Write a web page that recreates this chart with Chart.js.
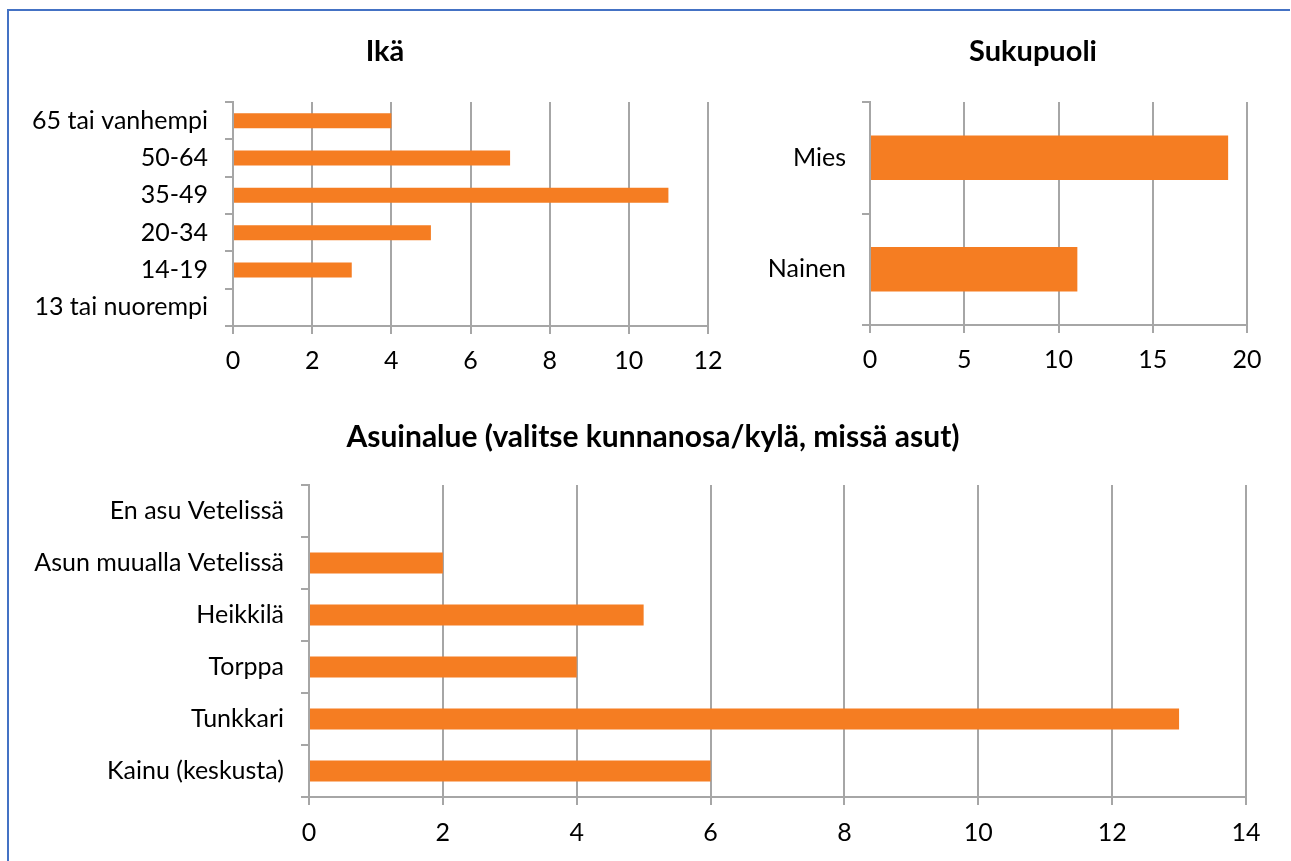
<!DOCTYPE html>
<html><head><meta charset="utf-8">
<script src="https://cdn.jsdelivr.net/npm/chart.js@4/dist/chart.umd.min.js"></script>
<style>
html,body{margin:0;padding:0;width:1291px;height:861px;overflow:hidden;background:#fff;}
canvas{position:absolute;}
#frameTop{position:absolute;left:7px;top:9px;width:1283px;height:2px;background:#4472C4;}
#frameLeft{position:absolute;left:7px;top:9px;width:2px;height:852px;background:#4472C4;}
</style></head><body>
<canvas id="ch1" width="750" height="370" style="left:10px;top:20px"></canvas>
<canvas id="ch2" width="586" height="370" style="left:740px;top:20px"></canvas>
<canvas id="ch3" width="1286" height="466" style="left:10px;top:395px"></canvas>
<div id="frameTop"></div><div id="frameLeft"></div>
<script>
// ---- data ----
const ageTitle = 'Ikä';
const ageLabels = ['65 tai vanhempi', '50-64', '35-49', '20-34', '14-19', '13 tai nuorempi'];
const ageValues = [4, 7, 11, 5, 3, 0];
const ageTicks = {max: 12, step: 2};

const sexTitle = 'Sukupuoli';
const sexLabels = ['Mies', 'Nainen'];
const sexValues = [19, 11];
const sexTicks = {max: 20, step: 5};

const areaTitle = 'Asuinalue (valitse kunnanosa/kylä, missä asut)';
const areaLabels = ['En asu Vetelissä', 'Asun muualla Vetelissä', 'Heikkilä', 'Torppa', 'Tunkkari', 'Kainu (keskusta)'];
const areaValues = [0, 2, 5, 4, 13, 6];
const areaTicks = {max: 14, step: 2};

// ---- styling ----
const FONT = 'Lato';
const BAR = '#F57D22';
const GRID = '#a6a6a6';
Chart.defaults.font.family = FONT;
Chart.defaults.color = '#000';

function makeChart(id, title, labels, values, ticks, L) {
  new Chart(document.getElementById(id), {
    type: 'bar',
    data: {labels: labels, datasets: [{data: values, backgroundColor: BAR, borderWidth: 0,
      barPercentage: 0.4, categoryPercentage: 1.0}]},
    options: {
      indexAxis: 'y', responsive: false, animation: false,
      layout: {padding: {left: 0, right: 0, top: 0, bottom: L.padBottom}},
      plugins: {
        legend: {display: false}, tooltip: {enabled: false},
        title: {display: true, text: title, color: '#000',
          font: {family: FONT, size: L.titleSize, weight: 'bold'},
          padding: {top: L.titleTop, bottom: L.titleBottom}}
      },
      scales: {
        x: {min: 0, max: ticks.max,
          ticks: {stepSize: ticks.step, padding: L.xPad, color: '#000', font: {size: L.tickSize}},
          grid: {color: GRID, lineWidth: 2, tickLength: 8, drawTicks: true, tickColor: GRID},
          border: {display: true, color: GRID, width: 2},
          afterFit: s => { s.height = 56; }
        },
        y: {
          ticks: {padding: L.yPad, color: '#000', font: {size: L.tickSize}},
          grid: {drawOnChartArea: false, drawTicks: true, tickLength: 8, offset: true, color: GRID, lineWidth: 2},
          border: {display: true, color: GRID, width: 2},
          afterFit: s => { s.width = L.yWidth; }
        },
        // empty spacer on the right so the title centres like the original
        spacer: {type: 'linear', axis: 'y', position: 'right',
          ticks: {display: false}, grid: {display: false}, border: {display: false},
          afterFit: s => { s.width = L.rightSpace; }
        }
      }
    }
  });
}

makeChart('ch1', ageTitle, ageLabels, ageValues, ageTicks,
  {padBottom: 8, titleSize: 29, titleTop: 14.6, titleBottom: 32.6, xPad: 12, yPad: 17, yWidth: 223, rightSpace: 52, tickSize: 25});
makeChart('ch2', sexTitle, sexLabels, sexValues, sexTicks,
  {padBottom: 9, titleSize: 29, titleTop: 14.6, titleBottom: 32.6, xPad: 12, yPad: 16, yWidth: 130, rightSpace: 79, tickSize: 25});
makeChart('ch3', areaTitle, areaLabels, areaValues, areaTicks,
  {padBottom: 8, titleSize: 30, titleTop: 24, titleBottom: 30, xPad: 13, yPad: 17, yWidth: 299, rightSpace: 50, tickSize: 25});
</script>
</body></html>
